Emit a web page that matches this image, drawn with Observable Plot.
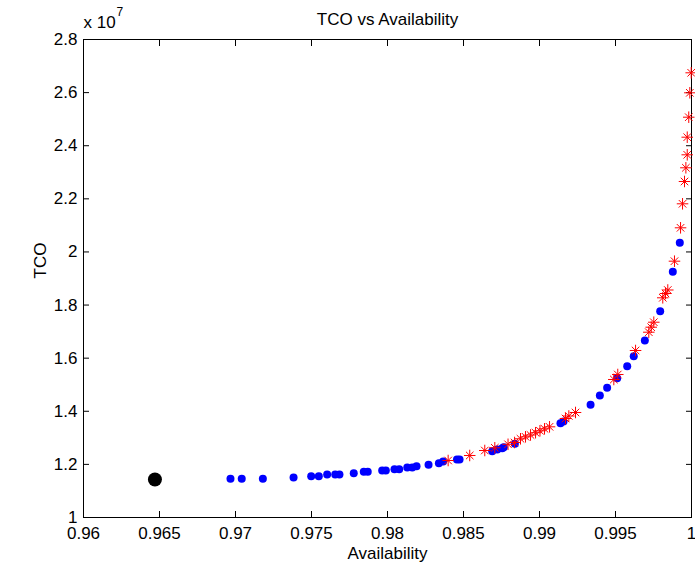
<!DOCTYPE html>
<html>
<head>
<meta charset="utf-8">
<script src="https://cdn.jsdelivr.net/npm/d3@7"></script>
<script src="https://cdn.jsdelivr.net/npm/@observablehq/plot@0.6"></script>
<style>
  body { margin: 0; background: #fff; }
  #chart svg { display: block; }
</style>
</head>
<body>
<div id="chart"></div>
<script>
// ---- Data ----
const titleText = "TCO vs Availability";
const xLabel = "Availability";
const yLabel = "TCO";

// Blue points
const blueAvail = [0.96967, 0.97041, 0.97180, 0.97382, 0.97498, 0.97548, 0.97603, 0.97656, 0.97684, 0.97778,
  0.97844, 0.97870, 0.97965, 0.97989, 0.98046, 0.98077, 0.98130, 0.98163, 0.98191, 0.98270,
  0.98338, 0.98366, 0.98457, 0.98474, 0.98689, 0.98722, 0.98755, 0.98765, 0.98838, 0.99138,
  0.99158, 0.99336, 0.99397, 0.99445, 0.99511, 0.99577, 0.99620, 0.99693, 0.99794, 0.99877, 0.99923];
const blueTCO = [1.1457e7, 1.1457e7, 1.1457e7, 1.1506e7, 1.1555e7, 1.1555e7, 1.1619e7, 1.1619e7, 1.1619e7, 1.1668e7,
  1.1721e7, 1.1721e7, 1.1770e7, 1.1770e7, 1.1819e7, 1.1819e7, 1.1883e7, 1.1883e7, 1.1932e7, 1.1984e7,
  1.2045e7, 1.2109e7, 1.2184e7, 1.2184e7, 1.2497e7, 1.2560e7, 1.2610e7, 1.2647e7, 1.2775e7, 1.3551e7,
  1.3615e7, 1.4244e7, 1.4594e7, 1.4884e7, 1.5246e7, 1.5698e7, 1.6074e7, 1.6665e7, 1.7769e7, 1.9252e7, 2.0344e7];

// Red stars
const redAvail = [0.98399, 0.98541, 0.98640, 0.98706, 0.98793, 0.98836, 0.98875, 0.98908, 0.98941, 0.98974,
  0.99003, 0.99033, 0.99066, 0.99171, 0.99193, 0.99237, 0.99489, 0.99515, 0.99632, 0.99719,
  0.99735, 0.99752, 0.99811, 0.99829, 0.99844, 0.99888, 0.99928, 0.99941, 0.99954, 0.99963,
  0.99972, 0.99972, 0.99982, 0.99989, 0.99998];
const redTCO = [1.2146e7, 1.2335e7, 1.2523e7, 1.2625e7, 1.2757e7, 1.2824e7, 1.2964e7, 1.3039e7, 1.3107e7, 1.3193e7,
  1.3265e7, 1.3340e7, 1.3415e7, 1.3728e7, 1.3822e7, 1.3954e7, 1.5197e7, 1.5385e7, 1.6289e7, 1.6978e7,
  1.7166e7, 1.7354e7, 1.8273e7, 1.8435e7, 1.8567e7, 1.9652e7, 2.0909e7, 2.1813e7, 2.2653e7, 2.3169e7,
  2.3658e7, 2.4321e7, 2.5074e7, 2.5993e7, 2.6746e7];

// Highlighted black point
const blackAvail = [0.9647];
const blackTCO = [1.143e7];

// Tick values
const xTicks = [0.96, 0.965, 0.97, 0.975, 0.98, 0.985, 0.99, 0.995, 1];
const yTicks = [1.0e7, 1.2e7, 1.4e7, 1.6e7, 1.8e7, 2.0e7, 2.2e7, 2.4e7, 2.6e7, 2.8e7];
const yExponentBase = "x 10";
const yExponent = "7";

// ---- Build tables ----
const blue = blueAvail.map((a, i) => ({a, t: blueTCO[i]}));
const red = redAvail.map((a, i) => ({a, t: redTCO[i]}));
const black = blackAvail.map((a, i) => ({a, t: blackTCO[i]}));

const fmtX = d => d3.format("~g")(d);
const fmtY = d => d3.format("~g")(+(d / 1e7).toFixed(4));
const FONT = "Liberation Sans, Arial, Helvetica, sans-serif";
const FS = 17;

const chart = Plot.plot({
  width: 695,
  height: 567,
  marginLeft: 83,
  marginRight: 4,
  marginTop: 39,
  marginBottom: 50,
  style: {fontFamily: FONT, fontSize: FS + "px", color: "black", background: "white"},
  x: {domain: [0.96, 1]},
  y: {domain: [1e7, 2.8e7]},
  marks: [
    Plot.frame({stroke: "black", strokeWidth: 1}),
    Plot.axisX({anchor: "bottom", ticks: xTicks, tickFormat: fmtX, tickSize: -6, tickPadding: 15, label: null, fontSize: FS}),
    Plot.axisX({anchor: "top", ticks: xTicks, tickFormat: () => "", tickSize: -6, label: null}),
    Plot.axisY({anchor: "left", ticks: yTicks, tickFormat: fmtY, tickSize: -6, tickPadding: 12, label: null, fontSize: FS}),
    Plot.axisY({anchor: "right", ticks: yTicks, tickFormat: () => "", tickSize: -6, label: null}),
    Plot.dot(blue, {x: "a", y: "t", r: 4, fill: "#0000ff", stroke: "none"}),
    Plot.dot(red, {x: "a", y: "t", r: 3.8, symbol: "plus", stroke: "#ff0000", strokeWidth: 1}),
    Plot.dot(red, {x: "a", y: "t", r: 3.5, symbol: "times", stroke: "#ff0000", strokeWidth: 1}),
    Plot.dot(black, {x: "a", y: "t", r: 7, fill: "black", stroke: "none"}),
    Plot.text([titleText], {frameAnchor: "top", dy: -27, fontSize: FS, fill: "black"}),
    Plot.text([xLabel], {frameAnchor: "bottom", dy: 41, fontSize: FS, fill: "black"}),
    Plot.text([yLabel], {frameAnchor: "left", dx: -43, rotate: -90, fontSize: FS, fill: "black"}),
    Plot.text([yExponentBase], {frameAnchor: "top-left", textAnchor: "start", dx: 0, dy: -24, fontSize: FS, fill: "black"}),
    Plot.text([yExponent], {frameAnchor: "top-left", textAnchor: "start", dx: 33, dy: -32, fontSize: 12, fill: "black"})
  ]
});
document.getElementById("chart").appendChild(chart);
</script>
</body>
</html>
